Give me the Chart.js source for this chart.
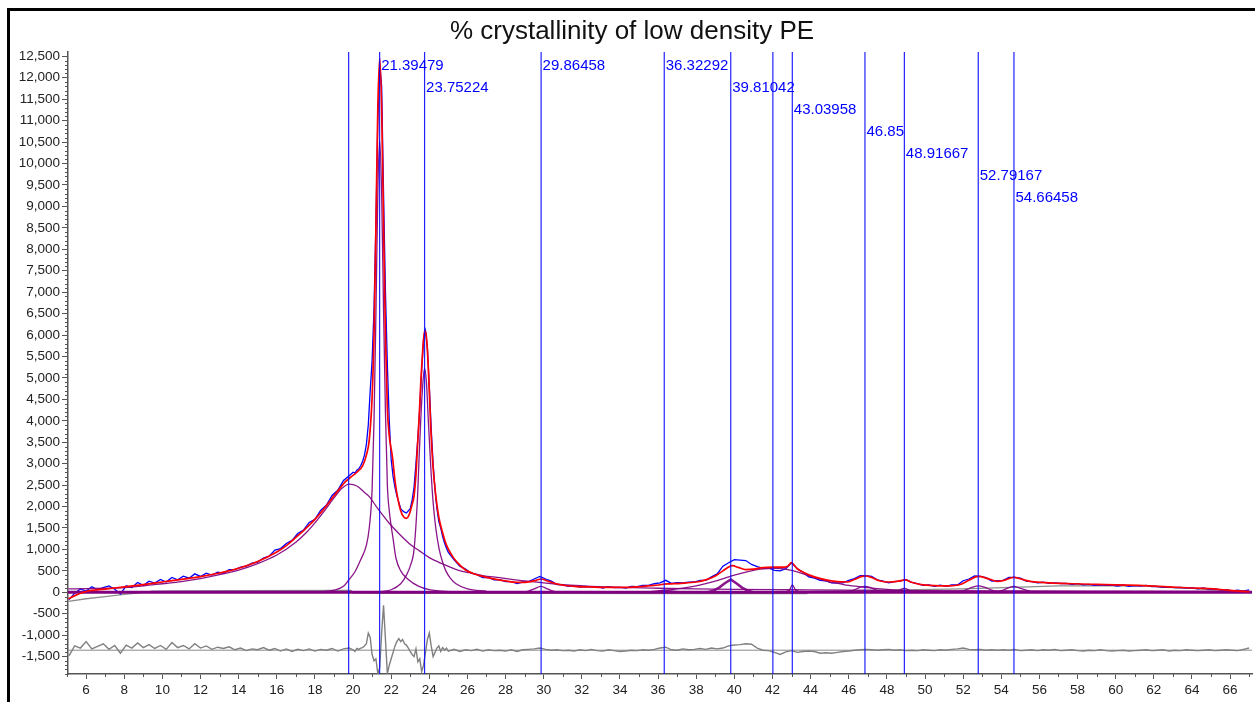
<!DOCTYPE html>
<html><head><meta charset="utf-8">
<script src="https://cdn.jsdelivr.net/npm/chart.js@4.4.0/dist/chart.umd.min.js"></script>
<style>html,body{margin:0;padding:0;background:#fff;}canvas{display:block;}</style>
</head><body>
<canvas id="c" width="1255" height="702"></canvas>
<script>
const TITLE = '% crystallinity of low density PE';
const xTicks = [6,8,10,12,14,16,18,20,22,24,26,28,30,32,34,36,38,40,42,44,46,48,50,52,54,56,58,60,62,64,66];
const yTicks = [-1500,-1000,-500,0,500,1000,1500,2000,2500,3000,3500,4000,4500,5000,5500,6000,6500,7000,7500,8000,8500,9000,9500,10000,10500,11000,11500,12000,12500];

// peak markers
const peakPos  = [19.77,21.39479,23.75224,29.86458,36.32292,39.81042,42.02,43.03958,46.85,48.91667,52.79167,54.66458];
const peakText = ['','21.39479','23.75224','29.86458','36.32292','39.81042','','43.03958','46.85','48.91667','52.79167','54.66458'];
const labelRow = [null,0,1,0,0,1,null,2,3,4,5,6];

// observed pattern (blue) and residual (grey), shared 2-theta grid
const obsX = [
5.1,5.4,5.7,6.0,6.3,6.6,6.9,7.2,7.5,7.8,8.1,8.4,8.7,9.0,9.3,9.6,9.9,10.2,10.5,10.8,
11.1,11.4,11.7,12.0,12.3,12.6,12.9,13.2,13.5,13.8,14.1,14.4,14.7,15.0,15.3,15.6,15.9,16.2,16.5,16.8,
17.1,17.4,17.7,18.0,18.3,18.6,18.9,19.2,19.5,19.8,
20.0,20.1,20.2,20.3,20.4,20.5,20.6,20.7,20.8,20.9,
21.0,21.1,21.2,21.3,21.4,21.5,21.6,21.7,21.8,21.9,
22.0,22.1,22.2,22.3,22.4,22.5,22.6,22.7,22.8,22.9,
23.0,23.1,23.2,23.3,23.4,23.5,23.6,23.7,23.8,23.9,
24.0,24.1,24.2,24.3,24.4,24.5,24.6,24.7,24.8,24.9,25.0,
25.3,25.6,25.9,26.2,26.5,26.8,27.1,27.4,27.7,28.0,
28.3,28.6,28.9,29.2,29.5,29.8,30.1,30.4,30.7,31.0,
31.3,31.6,31.9,32.2,32.5,32.8,33.1,33.4,33.7,34.0,
34.3,34.6,34.9,35.2,35.5,35.8,36.1,36.4,36.7,37.0,
37.3,37.6,37.9,38.2,38.5,38.8,39.1,39.4,39.7,40.0,
40.3,40.6,40.9,41.2,41.5,41.8,42.1,42.4,42.7,43.0,
43.3,43.6,43.9,44.2,44.5,44.8,45.1,45.4,45.7,46.0,
46.3,46.6,46.9,47.2,47.5,47.8,48.1,48.4,48.7,49.0,
49.3,49.6,49.9,50.2,50.5,50.8,51.1,51.4,51.7,52.0,
52.3,52.6,52.9,53.2,53.5,53.8,54.1,54.4,54.7,55.0,
55.3,55.6,55.9,56.2,56.5,56.8,57.1,57.4,57.7,58.0,
58.3,58.6,58.9,59.2,59.5,59.8,60.1,60.4,60.7,61.0,
61.3,61.6,61.9,62.2,62.5,62.8,63.1,63.4,63.7,64.0,
64.3,64.6,64.9,65.2,65.5,65.8,66.1,66.4,66.7,67.0];
const obsY = [
-170,-20,80,30,130,60,110,150,70,-40,150,110,230,160,260,215,300,240,345,290,
375,330,430,370,445,400,470,445,530,530,590,610,680,705,800,845,985,1020,1140,1210,
1370,1450,1630,1700,1910,2030,2260,2380,2610,2720,
2800,2780,2850,2880,2950,3050,3200,3450,3900,4700,
5400,6600,8600,11000,12300,11800,9300,7000,5300,4000,
3100,2700,2450,2250,2100,1950,1900,1870,1850,1900,
1950,2150,2450,3000,3600,4300,5200,5900,6100,5700,
4800,3800,3000,2400,1950,1650,1500,1300,1150,1030,930,
760,610,545,445,410,345,345,290,295,250,
250,205,240,250,310,370,310,260,180,175,
140,150,120,135,120,130,100,130,110,115,
100,135,130,160,160,200,220,280,210,225,
220,235,240,280,280,360,430,610,690,760,
750,740,650,600,560,570,510,500,550,690,
550,470,360,330,280,270,220,220,220,280,
320,390,390,370,290,260,220,250,260,300,
230,200,160,170,140,165,140,170,170,270,
310,380,370,340,260,270,280,350,350,330,
260,250,220,235,210,220,205,210,185,200,
175,185,160,175,165,170,145,170,140,155,
145,160,135,140,115,125,110,115,100,110,
80,105,70,80,55,60,35,50,30,55];
const resY = [
-1480,-1250,-1300,-1150,-1320,-1260,-1200,-1330,-1240,-1420,-1230,-1300,-1180,-1290,-1220,-1310,-1240,-1330,-1170,-1290,
-1240,-1320,-1200,-1300,-1250,-1330,-1280,-1310,-1270,-1340,-1300,-1360,-1320,-1340,-1290,-1350,-1310,-1370,-1320,-1380,
-1330,-1360,-1320,-1370,-1330,-1350,-1310,-1370,-1320,-1300,
-1340,-1380,-1310,-1330,-1300,-1290,-1250,-1200,-950,-1050,
-1450,-1600,-1550,-1900,-1750,-950,-300,-1100,-1900,-1700,
-1550,-1400,-1250,-1150,-1080,-1150,-1100,-1200,-1230,-1300,
-1380,-1450,-1500,-1320,-1620,-1550,-1850,-1700,-1400,-1100,
-950,-1250,-1500,-1400,-1300,-1250,-1380,-1290,-1350,-1300,-1370,
-1330,-1380,-1340,-1360,-1330,-1370,-1340,-1360,-1350,-1370,
-1340,-1380,-1340,-1330,-1320,-1300,-1330,-1350,-1340,-1360,
-1350,-1370,-1340,-1360,-1330,-1360,-1370,-1340,-1360,-1380,
-1370,-1350,-1360,-1340,-1350,-1330,-1300,-1280,-1340,-1350,
-1320,-1340,-1330,-1310,-1330,-1300,-1320,-1300,-1250,-1230,
-1220,-1200,-1210,-1300,-1350,-1360,-1400,-1450,-1390,-1360,
-1400,-1380,-1370,-1380,-1420,-1410,-1420,-1400,-1380,-1370,
-1350,-1340,-1330,-1340,-1350,-1340,-1330,-1350,-1340,-1360,
-1350,-1360,-1340,-1350,-1360,-1340,-1350,-1330,-1320,-1300,
-1330,-1340,-1330,-1350,-1340,-1350,-1340,-1350,-1330,-1360,
-1350,-1340,-1360,-1340,-1350,-1330,-1360,-1350,-1340,-1360,
-1370,-1350,-1360,-1340,-1360,-1370,-1360,-1350,-1370,-1360,
-1350,-1340,-1360,-1350,-1340,-1370,-1350,-1360,-1340,-1350,
-1360,-1350,-1340,-1360,-1350,-1340,-1350,-1360,-1330,-1300];
const resZeroX = [5.05,67.15];
const resZeroY = [-1350,-1350];

// calculated (fit) pattern, red
const fitX = [5.07,5.5,6,7,8,9,10,11,12,13,14,15,16,16.5,17,17.5,18,18.5,19,19.3,
19.6,19.9,20.2,20.5,20.7,20.85,21.0,21.1,21.2,21.3,21.4,21.5,21.6,21.7,21.8,21.9,22.07,22.2,22.33,22.5,
22.65,22.8,22.95,23.1,23.2,23.3,23.38,23.47,23.56,23.65,23.75,23.82,23.9,24.0,24.08,24.2,24.34,24.5,24.69,24.9,
25.2,25.5,25.9,26.3,26.8,27.3,27.8,28.3,28.8,29.3,29.6,29.86,30.2,30.6,31.0,31.6,32.5,33.5,34.5,35.0,
35.8,36.5,37.2,38.0,38.5,39.0,39.4,39.7,39.9,40.2,40.6,41.0,41.5,42.0,42.5,42.8,43.0,43.1,43.3,43.7,
44.2,44.8,45.4,45.9,46.3,46.7,46.9,47.2,47.6,48.1,48.6,48.95,49.3,49.8,50.5,51.3,51.8,52.3,52.8,53.3,
53.8,54.2,54.65,55.1,55.6,56.5,57.7,59,60,61.2,62,63,64,64.7,65.5,66.3,67.0];
const fitY = [-150,-60,20,75,125,180,240,300,365,450,560,720,940,1090,1280,1480,1700,1960,2250,2420,
2580,2690,2800,2950,3200,3550,4550,6000,8500,11300,12450,11300,8600,6000,4300,3650,3150,2600,2230,1900,
1760,1725,1820,2050,2250,2750,3400,4100,4950,5600,6100,6050,5650,4700,3800,2900,2250,1750,1400,1100,
850,680,520,440,370,320,280,245,230,250,280,310,265,205,165,140,125,115,115,130,
160,195,210,240,290,380,500,590,620,580,530,540,575,585,585,610,690,650,550,450,
360,290,250,240,300,370,380,345,270,240,260,290,235,180,155,150,175,280,370,320,
255,285,350,300,250,220,200,185,175,160,145,120,100,90,65,35,15];

// fitted components (purple)
const amX = [5.07,6,7,8,9,10,11,12,13,14,15,16,17,17.5,18,18.5,19,19.4,19.8,20.2,20.6,20.85,21.3,21.9,22.4,22.94,23.5,24,24.5,25.04,25.5,26.1,26.8,27.7,28.5,29.4,30.5,31.2,32.5,34,36,38,40,43,46,50,55,60,67];
const amY = [80,85,95,110,150,200,250,320,410,520,670,870,1170,1370,1620,1900,2200,2420,2525,2480,2330,2230,1950,1610,1370,1140,960,810,700,600,520,457,390,340,290,247,200,170,140,115,95,80,70,60,50,40,30,25,20];
const p21X = [18.5,19.0,19.5,19.8,20.1,20.4,20.7,20.85,21.0,21.1,21.2,21.3,21.39,21.5,21.6,21.7,21.8,21.9,22.0,22.1,22.25,22.5,22.9,23.4,24.0,25.0];
const p21Y = [20,50,140,300,480,760,1100,1500,2400,4000,6500,9300,10550,9300,6600,4200,2500,1900,1550,1250,800,500,300,150,60,15];
const p24X = [21.5,22.0,22.5,22.8,23.03,23.2,23.38,23.47,23.56,23.65,23.75,23.85,23.95,24.08,24.2,24.34,24.52,24.7,24.87,25.1,25.4,26.0,27.0];
const p24Y = [20,60,200,400,650,1000,2200,3200,4100,4800,5224,4900,4000,2900,2100,1500,1000,700,500,330,200,80,25];
const p30X = [28.8,29.2,29.5,29.86,30.2,30.5,30.9];
const p30Y = [0,30,80,140,80,30,0];
const p36X = [35.3,35.8,36.32,36.8,37.3];
const p36Y = [0,25,50,25,0];
const p40X = [38.6,38.9,39.2,39.5,39.81,40.1,40.4,40.7,41.0];
const p40Y = [0,40,110,210,300,210,110,40,0];
const p42X = [36,37,38,38.5,39,39.5,40,40.5,41,41.5,42,42.5,43,43.5,44,44.5,45,45.5,46,47,48,49,50,51];
const p42Y = [30,80,150,200,260,330,400,460,510,545,560,550,510,450,370,300,240,200,160,110,70,40,20,5];
const p43X = [42.7,42.9,43.04,43.2,43.4];
const p43Y = [10,60,170,60,10];
const p47X = [45.8,46.2,46.5,46.85,47.2,47.5,47.9];
const p47Y = [0,40,100,140,100,40,0];
const p49X = [48.3,48.6,48.92,49.2,49.5];
const p49Y = [0,40,90,40,0];
const p53X = [51.7,52.1,52.5,52.79,53.1,53.5,53.9];
const p53Y = [0,50,120,150,120,50,0];
const p55X = [53.7,54.1,54.4,54.66,54.9,55.3,55.7];
const p55Y = [0,50,110,140,110,50,0];
const zeroX = [5.05,67.15];
const zeroY = [0,0];

// background (grey)
const bgX = [5.07,6,7,8,9,9.5,10.7,14,19.9,20.0,30,38,43.8,44.0,48,52,55,57,62,62.3,64,65,67.0];
const bgY = [-210,-150,-100,-50,0,25,35,40,45,-20,-25,-30,-30,20,50,80,120,150,150,120,90,60,20];

const FONT = 'Arial, "Liberation Sans", sans-serif';
const PURPLE = 'rgba(128,0,128,0.92)';
const pts = (xs, ys) => xs.map((x, i) => ({x: x, y: ys[i]}));
const ds = (xs, ys, color, w, smooth) => ({
  data: pts(xs, ys), borderColor: color, borderWidth: w, pointRadius: 0,
  fill: false, tension: 0, cubicInterpolationMode: smooth ? 'monotone' : 'default'
});

const decor = {
  id: 'decor',
  beforeDraw(c) {
    const g = c.ctx; g.save();
    g.fillStyle = '#fff'; g.fillRect(0, 0, c.width, c.height);
    g.fillStyle = '#000'; g.fillRect(7, 8, 3, c.height - 8); g.fillRect(7, 8, c.width - 7, 3);
    g.restore();
  },
  afterDatasetsDraw(c) {
    const g = c.ctx, xs = c.scales.x, a = c.chartArea;
    g.save();
    g.strokeStyle = 'rgba(10,10,255,0.9)'; g.lineWidth = 1.2;
    peakPos.forEach(p => {
      const px = xs.getPixelForValue(p);
      g.beginPath(); g.moveTo(px, a.top); g.lineTo(px, a.bottom); g.stroke();
    });
    g.fillStyle = '#0000ff'; g.font = '15px ' + FONT; g.textBaseline = 'middle'; g.textAlign = 'left';
    peakPos.forEach((p, i) => {
      if (labelRow[i] === null) return;
      g.fillText(peakText[i], xs.getPixelForValue(p) + 1.5, a.top + 14 + labelRow[i] * 22);
    });
    g.restore();
  },
  afterDraw(c) {
    const g = c.ctx, xs = c.scales.x, ys = c.scales.y, a = c.chartArea;
    g.save(); g.strokeStyle = '#555'; g.lineWidth = 1;
    g.beginPath();
    for (let v = -1900; v <= 12500; v += 100) {
      if (v % 500 === 0) continue;
      const py = Math.round(ys.getPixelForValue(v)) + 0.5;
      g.moveTo(a.left - 3, py); g.lineTo(a.left, py);
    }
    for (let v = 5; v <= 67; v += 2) {
      const px = Math.round(xs.getPixelForValue(v)) + 0.5;
      g.moveTo(px, a.bottom); g.lineTo(px, a.bottom + 3);
    }
    g.stroke(); g.restore();
  }
};

new Chart(document.getElementById('c'), {
  type: 'line',
  data: { datasets: [
    ds(fitX, fitY, '#ff0000', 1.7, true),
    ds(p21X, p21Y, PURPLE, 1.3, true),
    ds(p24X, p24Y, PURPLE, 1.3, true),
    ds(amX, amY, PURPLE, 1.3, true),
    ds(p30X, p30Y, PURPLE, 1.3, true),
    ds(p36X, p36Y, PURPLE, 1.3, true),
    ds(p40X, p40Y, PURPLE, 2.5, false),
    ds(p42X, p42Y, PURPLE, 1.3, true),
    ds(p43X, p43Y, PURPLE, 1.3, true),
    ds(p47X, p47Y, PURPLE, 1.3, true),
    ds(p49X, p49Y, PURPLE, 1.3, true),
    ds(p53X, p53Y, PURPLE, 1.3, true),
    ds(p55X, p55Y, PURPLE, 1.3, true),
    ds(zeroX, zeroY, '#800080', 3, false),
    ds(obsX, obsY, '#0000ff', 1.3, false),
    ds(bgX, bgY, '#8c8c8c', 1.3, false),
    ds(obsX, resY, '#808080', 1.4, false),
    ds(resZeroX, resZeroY, '#8a8a8a', 1, false)
  ]},
  options: {
    responsive: false, animation: false, events: [],
    layout: { padding: { left: 12, right: 3, top: 12, bottom: 0 } },
    plugins: {
      legend: { display: false }, tooltip: { enabled: false },
      title: { display: true, text: TITLE, color: '#111',
        font: { family: FONT, size: 26, weight: 'normal', lineHeight: 1.2 },
        padding: { top: 4, bottom: 4.8 } }
    },
    scales: {
      x: {
        type: 'linear', min: 5.05, max: 67.15,
        afterBuildTicks: s => { s.ticks = xTicks.map(v => ({ value: v })); },
        afterFit: s => { s.height = 28; s.paddingLeft = 0; s.paddingRight = 0; },
        ticks: { color: '#222', font: { family: FONT, size: 13.5 }, padding: 3, maxRotation: 0, autoSkip: false },
        grid: { display: true, drawOnChartArea: false, drawTicks: true, tickLength: 5, color: '#555' },
        border: { display: true, color: '#555', width: 1.5 }
      },
      y: {
        type: 'linear', min: -1905, max: 12600,
        afterBuildTicks: s => { s.ticks = yTicks.map(v => ({ value: v })); },
        afterFit: s => { s.width = 56; s.paddingTop = 0; s.paddingBottom = 0; },
        ticks: { color: '#222', font: { family: FONT, size: 13.5 }, padding: 2, autoSkip: false,
          callback: v => Number(v).toLocaleString('en-US') },
        grid: { display: true, drawOnChartArea: false, drawTicks: true, tickLength: 6, color: '#555' },
        border: { display: true, color: '#555', width: 1.5 }
      }
    }
  },
  plugins: [decor]
});
</script>
</body></html>
